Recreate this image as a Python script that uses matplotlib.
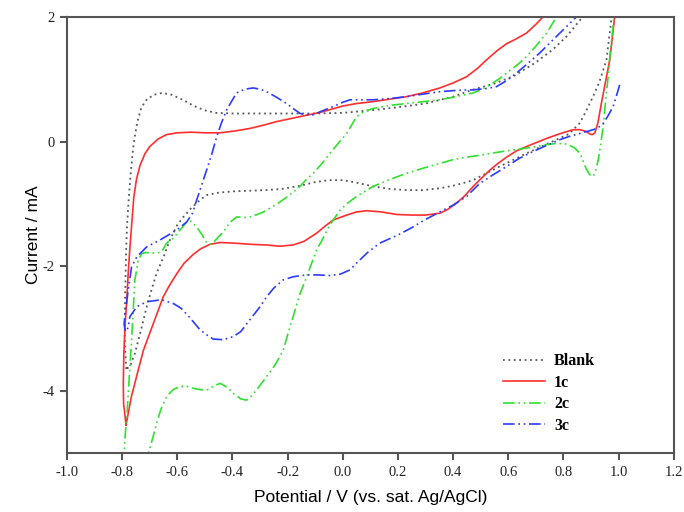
import numpy as np
import matplotlib.pyplot as plt

plt.rcParams['axes.unicode_minus'] = False

# potential (V) / current (mA), forward (anodic) and reverse (cathodic) scans
blank_fwd_v = [-0.785, -0.790, -0.791, -0.789, -0.786, -0.783, -0.776, -0.768, -0.758, -0.745, -0.73, -0.71,
               -0.685, -0.655, -0.62, -0.58, -0.54, -0.50, -0.46, -0.40, -0.30, -0.20, -0.10, 0.0, 0.10, 0.20,
               0.30, 0.40, 0.47, 0.55, 0.62, 0.70, 0.76, 0.81, 0.87, 0.92, 0.97, 1.0]
blank_fwd_i = [-3.65, -3.3, -3.0, -2.4, -1.8, -1.4, -0.9, -0.45, -0.02, 0.32, 0.55, 0.68,
               0.75, 0.78, 0.75, 0.67, 0.57, 0.50, 0.46, 0.45, 0.45, 0.45, 0.45, 0.46, 0.50, 0.55,
               0.61, 0.72, 0.83, 0.93, 1.05, 1.27, 1.47, 1.68, 2.0, 2.4, 2.8, 3.0]
blank_rev_v = [0.975, 0.956, 0.93, 0.907, 0.88, 0.86, 0.82, 0.775, 0.72, 0.666, 0.62, 0.569, 0.52, 0.473,
               0.41, 0.352, 0.29, 0.231, 0.17, 0.11, 0.05, 0.0, -0.05, -0.10, -0.155, -0.22, -0.28, -0.34,
               -0.40, -0.45, -0.494, -0.518, -0.55, -0.578, -0.602, -0.627, -0.65, -0.675, -0.695, -0.711,
               -0.735, -0.754, -0.772, -0.785]
blank_rev_i = [2.0, 1.31, 0.95, 0.72, 0.47, 0.30, 0.12, 0.03, -0.08, -0.19, -0.29, -0.40, -0.51, -0.62,
               -0.70, -0.75, -0.78, -0.78, -0.76, -0.72, -0.66, -0.62, -0.62, -0.65, -0.71, -0.76, -0.78, -0.79,
               -0.80, -0.82, -0.86, -0.94, -1.07, -1.21, -1.35, -1.58, -1.85, -2.11, -2.40, -2.65,
               -3.08, -3.40, -3.61, -3.65]

c1_fwd_v = [-0.786, -0.795, -0.796, -0.794, -0.789, -0.784, -0.778, -0.772, -0.765, -0.758, -0.748, -0.735,
            -0.718, -0.70, -0.67, -0.64, -0.60, -0.55, -0.50, -0.445, -0.39, -0.337, -0.29, -0.24, -0.155,
            -0.08, 0.0, 0.05, 0.109, 0.17, 0.231, 0.29, 0.352, 0.40, 0.449, 0.49, 0.521, 0.56, 0.594, 0.63,
            0.666, 0.70, 0.726, 0.80, 0.90, 1.0]
c1_fwd_i = [-4.55, -4.2, -3.9, -3.4, -2.9, -2.6, -2.1, -1.7, -1.3, -0.9, -0.6, -0.38,
            -0.2, -0.08, 0.04, 0.11, 0.14, 0.15, 0.14, 0.14, 0.17, 0.21, 0.26, 0.32, 0.40,
            0.47, 0.57, 0.61, 0.64, 0.68, 0.72, 0.78, 0.86, 0.94, 1.04, 1.18, 1.31, 1.46, 1.57, 1.65,
            1.74, 1.88, 2.0, 2.6, 3.3, 4.0]
c1_rev_v = [0.995, 0.986, 0.968, 0.95, 0.935, 0.925, 0.914, 0.905, 0.896, 0.883, 0.86, 0.835, 0.79, 0.739,
            0.70, 0.666, 0.63, 0.594, 0.56, 0.533, 0.50, 0.473, 0.44, 0.412, 0.38, 0.352, 0.30, 0.25, 0.195,
            0.14, 0.086, 0.05, 0.014, -0.035, -0.065, -0.095, -0.14, -0.18, -0.228, -0.276, -0.33, -0.397,
            -0.445, -0.482, -0.515, -0.542, -0.575, -0.602, -0.63, -0.651, -0.687, -0.723, -0.742, -0.767,
            -0.786]
c1_rev_i = [3.0, 2.0, 1.31, 0.9, 0.55, 0.3, 0.14, 0.11, 0.12, 0.16, 0.19, 0.19, 0.13, 0.05,
            -0.02, -0.08, -0.15, -0.25, -0.36, -0.46, -0.60, -0.72, -0.88, -0.99, -1.09, -1.15, -1.18, -1.18, -1.17,
            -1.13, -1.11, -1.13, -1.18, -1.26, -1.36, -1.47, -1.60, -1.66, -1.68, -1.66, -1.65, -1.63,
            -1.62, -1.65, -1.72, -1.81, -1.95, -2.12, -2.32, -2.49, -2.92, -3.35, -3.67, -4.1,
            -4.55]

c2_fwd_v = [-0.795, -0.793, -0.789, -0.784, -0.778, -0.772, -0.766, -0.76, -0.754, -0.747, -0.742, -0.729,
            -0.715, -0.70, -0.675, -0.657, -0.639, -0.614, -0.59, -0.566, -0.55, -0.53, -0.51, -0.494, -0.475,
            -0.455, -0.433, -0.41, -0.385, -0.36, -0.337, -0.31, -0.288, -0.26, -0.228, -0.19, -0.155, -0.13,
            -0.107, -0.075, -0.047, -0.015, 0.014, 0.03, 0.05, 0.08, 0.11, 0.17, 0.231, 0.29, 0.352, 0.41,
            0.473, 0.505, 0.533, 0.565, 0.594, 0.63, 0.666, 0.70, 0.739, 0.775, 0.85, 0.95, 1.0]
c2_fwd_i = [-5.6, -5.0, -4.7, -4.47, -4.05, -3.65, -3.19, -2.7, -2.22, -2.05, -1.90, -1.80,
            -1.78, -1.79, -1.79, -1.77, -1.63, -1.55, -1.42, -1.29, -1.28, -1.37, -1.50, -1.62, -1.65,
            -1.55, -1.45, -1.30, -1.21, -1.22, -1.21, -1.17, -1.13, -1.06, -0.97, -0.85, -0.72, -0.60,
            -0.51, -0.35, -0.19, -0.02, 0.13, 0.25, 0.40, 0.49, 0.53, 0.58, 0.61, 0.64, 0.67, 0.72,
            0.78, 0.84, 0.91, 1.00, 1.10, 1.22, 1.36, 1.53, 1.74, 2.0, 2.6, 3.2, 3.4]
c2_rev_v = [0.995, 0.99, 0.98, 0.97, 0.962, 0.953, 0.944, 0.935, 0.926, 0.917, 0.908, 0.895, 0.883, 0.87,
            0.86, 0.84, 0.811, 0.775, 0.739, 0.69, 0.642, 0.594, 0.55, 0.497, 0.45, 0.40, 0.352, 0.29, 0.231,
            0.17, 0.11, 0.05, 0.02, -0.01, -0.047, -0.075, -0.095, -0.107, -0.131, -0.155, -0.18, -0.20,
            -0.216, -0.245, -0.276, -0.31, -0.33, -0.349, -0.37, -0.397, -0.42, -0.445, -0.47, -0.494,
            -0.52, -0.542, -0.565, -0.59, -0.615, -0.639, -0.66, -0.675, -0.69, -0.705, -0.73, -0.76,
            -0.785, -0.795]
c2_rev_i = [3.0, 2.3, 1.84, 1.45, 1.04, 0.65, 0.24, -0.05, -0.30, -0.46, -0.56, -0.53, -0.44, -0.30,
            -0.19, -0.10, -0.04, -0.03, -0.05, -0.09, -0.12, -0.15, -0.18, -0.22, -0.25, -0.29, -0.35, -0.43, -0.51,
            -0.61, -0.72, -0.88, -0.98, -1.10, -1.34, -1.58, -1.74, -1.88, -2.17, -2.44, -2.81, -3.10,
            -3.35, -3.58, -3.77, -3.97, -4.08, -4.15, -4.13, -4.04, -3.94, -3.88, -3.93, -3.99,
            -3.98, -3.96, -3.93, -3.93, -3.98, -4.09, -4.3, -4.52, -4.77, -5.0, -5.5, -5.8,
            -5.8, -5.6]

c3_fwd_v = [-0.79, -0.793, -0.786, -0.778, -0.766, -0.747, -0.711, -0.663, -0.602, -0.566, -0.545, -0.53,
            -0.512, -0.494, -0.475, -0.457, -0.44, -0.421, -0.40, -0.385, -0.355, -0.325, -0.30, -0.276,
            -0.24, -0.204, -0.18, -0.155, -0.13, -0.107, -0.07, -0.035, 0.0, 0.026, 0.11, 0.17, 0.231,
            0.29, 0.352, 0.41, 0.473, 0.52, 0.557, 0.595, 0.63, 0.67, 0.714, 0.75, 0.787, 0.847, 0.90]
c3_fwd_i = [-3.02, -2.92, -2.65, -2.38, -2.01, -1.85, -1.69, -1.58, -1.42, -1.29, -1.15, -0.94,
            -0.70, -0.46, -0.20, 0.08, 0.30, 0.51, 0.67, 0.78, 0.84, 0.86, 0.84, 0.80,
            0.71, 0.61, 0.53, 0.45, 0.43, 0.43, 0.50, 0.56, 0.63, 0.67, 0.67, 0.69, 0.72,
            0.76, 0.80, 0.82, 0.83, 0.85, 0.88, 0.98, 1.10, 1.25, 1.42, 1.58, 1.74, 2.0, 2.3]
c3_rev_v = [1.004, 0.99, 0.98, 0.96, 0.944, 0.925, 0.908, 0.86, 0.82, 0.787, 0.74, 0.69, 0.64, 0.594,
            0.55, 0.497, 0.449, 0.40, 0.352, 0.30, 0.255, 0.20, 0.134, 0.09, 0.05, 0.026, -0.01, -0.047,
            -0.095, -0.131, -0.18, -0.216, -0.25, -0.276, -0.30, -0.337, -0.37, -0.397, -0.433, -0.47,
            -0.494, -0.518, -0.554, -0.585, -0.614, -0.657, -0.711, -0.747, -0.772, -0.778, -0.784, -0.79]
c3_rev_i = [0.91, 0.70, 0.56, 0.40, 0.29, 0.22, 0.19, 0.13, 0.08, 0.03, -0.06, -0.16, -0.27, -0.40,
            -0.52, -0.67, -0.88, -1.02, -1.13, -1.25, -1.37, -1.50, -1.63, -1.78, -1.95, -2.06, -2.13, -2.15,
            -2.14, -2.14, -2.17, -2.22, -2.35, -2.49, -2.65, -2.86, -3.05, -3.13, -3.18, -3.17,
            -3.10, -3.02, -2.83, -2.68, -2.60, -2.54, -2.57, -2.65, -2.81, -2.97, -3.05, -3.02]

labels = ['Blank', '1c', '2c', '3c']
colors = ['#555555', '#ff2e2e', '#2ee22e', '#2a3cff']
dashdotdot = (0, (7, 2.2, 1, 2.2, 1, 2.2))
styles = [(0, (1, 2)), '-', dashdotdot, dashdotdot]

x_ticks = [-1.0, -0.8, -0.6, -0.4, -0.2, 0.0, 0.2, 0.4, 0.6, 0.8, 1.0, 1.2]
x_ticklabels = ['-1.0', '-0.8', '-0.6', '-0.4', '-0.2', '0.0', '0.2', '0.4', '0.6', '0.8', '1.0', '1.2']
y_ticks = [-4, -2, 0, 2]


def loop(v_fwd, i_fwd, v_rev, i_rev, gap=False):
    # join both scans into one trace; gap=True leaves the turn-around undrawn
    sep = [np.nan] if gap else []
    return (np.array(v_fwd + sep + v_rev, dtype=float),
            np.array(i_fwd + sep + i_rev, dtype=float))


traces = [
    loop(blank_fwd_v, blank_fwd_i, blank_rev_v, blank_rev_i),
    loop(c1_fwd_v, c1_fwd_i, c1_rev_v, c1_rev_i),
    loop(c2_fwd_v, c2_fwd_i, c2_rev_v, c2_rev_i),
    loop(c3_fwd_v, c3_fwd_i, c3_rev_v, c3_rev_i, gap=True),
]

fig = plt.figure(figsize=(6.84, 5.12), dpi=100)
ax = fig.add_axes([0.098, 0.115, 0.887, 0.852])

for (v, i), lab, c, ls in zip(traces, labels, colors, styles):
    lw = 1.3 if lab == 'Blank' else 1.2
    ax.plot(v, i, color=c, linestyle=ls, lw=lw, label=lab)

ax.set_xlim(-1.0, 1.2)
ax.set_ylim(-5, 2)
ax.set_xticks(x_ticks)
ax.set_xticklabels(x_ticklabels)
ax.set_yticks(y_ticks)

for s in ax.spines.values():
    s.set_color('#555555')
    s.set_linewidth(1.5)
ax.tick_params(direction='out', length=5, width=1.5, color='#555555',
               labelsize=10.5, labelcolor='#222222', pad=4)
for lbl in ax.get_xticklabels() + ax.get_yticklabels():
    lbl.set_fontfamily('Liberation Serif')

ax.set_xlabel('Potential / V (vs. sat. Ag/AgCl)', fontsize=12.5, family='Liberation Sans', labelpad=8)
ax.set_ylabel('Current / mA', fontsize=12.5, family='Liberation Sans', labelpad=1)

leg = ax.legend(loc='upper left', bbox_to_anchor=(0.695, 0.262), frameon=False,
                prop={'family': 'Liberation Serif', 'weight': 'bold', 'size': 11.5},
                handlelength=2.6, handletextpad=0.6, labelspacing=0.35)

fig.savefig('out.png', dpi=100)
